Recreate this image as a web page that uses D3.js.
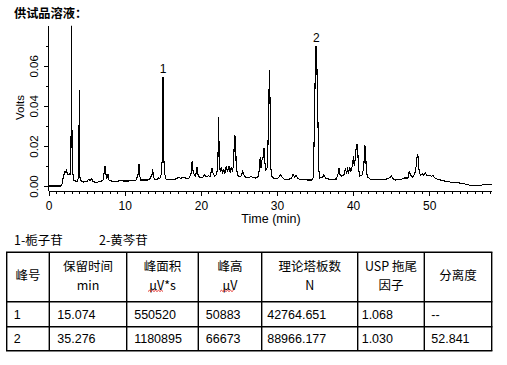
<!DOCTYPE html>
<html><head><meta charset="utf-8">
<script src="https://cdn.jsdelivr.net/npm/d3@7"></script>
<style>
html,body{margin:0;padding:0;background:#fff;}
svg{display:block;}
text{font-family:"Liberation Sans",Arial,sans-serif;fill:#000;}
.cjk{font-family:"Noto Sans CJK SC","Liberation Sans",sans-serif;}
</style></head>
<body>
<script>
// ---------- data ----------
const times = [0,1.6,1.75,1.9,2.05,2.15,2.25,2.35,2.45,2.55,2.7,2.8,2.9,2.95,3.0,3.05,3.1,3.15,3.25,3.5,3.8,3.95,4.02,4.08,4.15,4.3,4.6,5.0,5.3,5.45,5.65,5.8,6.2,6.8,7.15,7.3,7.4,7.5,7.6,7.8,7.9,8.2,9.0,9.5,9.8,10.5,11.0,11.5,11.75,11.87,11.97,12.1,13.0,13.3,13.45,13.55,13.66,13.75,13.9,14.2,14.4,14.6,14.8,14.93,15.0,15.05,15.12,15.25,15.4,16.0,16.5,16.9,17.1,17.3,17.6,18.0,18.4,18.7,18.85,18.95,19.1,19.3,19.5,19.6,19.8,20.2,20.5,20.7,21.0,21.2,21.45,21.6,21.8,22.1,22.25,22.33,22.42,22.55,22.7,22.85,23.0,23.15,23.35,23.5,23.7,23.85,24.0,24.15,24.3,24.42,24.55,24.65,24.85,25.0,25.3,25.5,25.65,25.9,26.3,26.6,26.8,27.2,27.5,27.7,27.8,27.9,28.05,28.2,28.3,28.4,28.55,28.75,28.9,28.97,29.03,29.1,29.18,29.3,29.6,30.0,30.3,30.5,30.7,31.0,31.5,31.9,32.1,32.3,32.5,32.7,33.0,34.0,34.6,34.8,34.95,35.1,35.2,35.35,35.5,35.65,36.0,36.15,36.4,37.0,37.8,38.0,38.15,38.3,38.5,38.8,39.0,39.15,39.3,39.4,39.55,39.7,39.9,40.05,40.15,40.3,40.45,40.6,40.7,40.9,41.2,41.4,41.55,41.65,41.75,41.9,42.3,43.5,44.5,44.9,45.05,45.3,45.6,46.3,46.7,47.2,47.4,47.55,47.8,48.1,48.3,48.45,48.55,48.7,48.9,49.1,49.3,49.5,49.7,50.0,50.3,50.5,50.8,51.0,52.0,53.0,54.0,55.0,55.5,56.8,57.0,58.3];
const volts = [0,0,0.001,0.004,0.0065,0.0075,0.0068,0.0077,0.0062,0.0058,0.006,0.0055,0.0065,0.03,0.085,0.03,0.0155,0.008,0.003,0.0025,0.0022,0.006,0.048,0.006,0.0028,0.0025,0.002,0.0022,0.0035,0.0025,0.0038,0.0022,0.0018,0.0022,0.003,0.007,0.0102,0.007,0.0035,0.0058,0.003,0.0025,0.0022,0.003,0.0025,0.0025,0.0028,0.003,0.006,0.011,0.005,0.003,0.003,0.0035,0.005,0.0048,0.0085,0.005,0.0035,0.0032,0.004,0.0035,0.006,0.014,0.054,0.054,0.0145,0.006,0.0035,0.0032,0.0033,0.0038,0.0045,0.0038,0.0042,0.004,0.0038,0.006,0.0125,0.008,0.006,0.005,0.0095,0.006,0.0045,0.0042,0.0055,0.0045,0.0052,0.0045,0.009,0.0065,0.0048,0.006,0.015,0.0345,0.012,0.007,0.0095,0.006,0.0085,0.006,0.01,0.007,0.0098,0.0065,0.0095,0.007,0.011,0.0255,0.024,0.009,0.0055,0.0048,0.005,0.0075,0.0055,0.0042,0.004,0.005,0.0042,0.004,0.0045,0.0085,0.0145,0.009,0.0135,0.0145,0.0188,0.012,0.008,0.0095,0.035,0.0505,0.058,0.039,0.0097,0.005,0.0038,0.0036,0.0045,0.0058,0.0042,0.0033,0.0033,0.0038,0.0058,0.0045,0.0052,0.004,0.0033,0.003,0.003,0.0045,0.04,0.0695,0.0695,0.04,0.008,0.004,0.0045,0.0055,0.0038,0.0033,0.0035,0.0055,0.0088,0.0055,0.0048,0.0055,0.009,0.006,0.0092,0.006,0.0095,0.007,0.01,0.0147,0.01,0.014,0.0208,0.0208,0.009,0.005,0.0055,0.009,0.0205,0.0175,0.007,0.0045,0.0033,0.0033,0.0035,0.0045,0.005,0.0035,0.003,0.0032,0.004,0.004,0.0075,0.0055,0.0045,0.0058,0.01,0.0158,0.0145,0.0065,0.0055,0.006,0.0052,0.0065,0.0052,0.0055,0.0048,0.0052,0.0038,0.0035,0.0025,0.0018,0.0015,0.0008,0.0002,0.0002,0.0006,0.0006];

const yTickValues = [0, 0.02, 0.04, 0.06];
const yMinorValues = [0.01, 0.03, 0.05, 0.07];
const xTickValues = [0, 10, 20, 30, 40, 50];
const xMinorValues = d3.range(1, 59).filter(d => d % 10 !== 0);

const peakNames = ["1", "2"];
const peakTimes = [15.03, 35.18];
const peakHeights = [0.054, 0.0695];

const titleText = "供试品溶液：";
const legendItems = ["1-栀子苷", "2-黄芩苷"];
const headerRows = [["峰号"], ["保留时间", "min"], ["峰面积", "µV*s"], ["峰高", "µV"], ["理论塔板数", "N"], ["USP 拖尾", "因子"], ["分离度"]];
const rows = [
  ["1", "15.074", "550520", "50883", "42764.651", "1.068", "--"],
  ["2", "35.276", "1180895", "66673", "88966.177", "1.030", "52.841"]
];

// ---------- drawing ----------
const W = 507, H = 365;
const svg = d3.select("body").append("svg").attr("width", W).attr("height", H);

const x = d3.scaleLinear().domain([0, 58.3]).range([48.7, 492.3]);
const y = d3.scaleLinear().domain([-0.0025, 0.08]).range([191, 25.8]);

// title
svg.append("text").attr("class", "cjk").attr("x", 14).attr("y", 17.5)
  .attr("font-size", 12.2).attr("font-weight", "bold").text(titleText);

// clip
svg.append("clipPath").attr("id", "plotclip").append("rect")
  .attr("x", 48).attr("y", 25.8).attr("width", 450).attr("height", 166);

// y axis
const yAxis = d3.axisLeft(y).tickValues(yTickValues).tickFormat(d3.format(".2f")).tickSize(5).tickSizeOuter(0);
const gy = svg.append("g").attr("transform", `translate(${x(0)},0)`).call(yAxis);
gy.select(".domain").remove();
gy.selectAll("line").attr("stroke", "#000").attr("shape-rendering", "crispEdges");
gy.selectAll("text").attr("transform", "rotate(-90)").attr("x", 0).attr("y", -10.5).attr("dy", 0)
  .attr("text-anchor", "middle").attr("font-size", 11.5).attr("font-family", "Liberation Sans, Arial, sans-serif");
const gym = svg.append("g").attr("transform", `translate(${x(0)},0)`)
  .call(d3.axisLeft(y).tickValues(yMinorValues).tickSize(3).tickFormat(""));
gym.select(".domain").remove();
gym.selectAll("line").attr("stroke", "#000").attr("shape-rendering", "crispEdges");

// x axis
const gx = svg.append("g").attr("transform", `translate(0,${y.range()[0]})`)
  .call(d3.axisBottom(x).tickValues(xTickValues).tickSize(5).tickSizeOuter(0).tickFormat(d3.format("d")));
gx.select(".domain").remove();
gx.selectAll("line").attr("stroke", "#000").attr("shape-rendering", "crispEdges");
gx.selectAll("text").attr("y", 0).attr("dy", 0).attr("transform", "translate(0,19.3)").attr("font-size", 12)
  .attr("font-family", "Liberation Sans, Arial, sans-serif");
const gxm = svg.append("g").attr("transform", `translate(0,${y.range()[0]})`)
  .call(d3.axisBottom(x).tickValues(xMinorValues).tickSize(3).tickFormat(""));
gxm.select(".domain").remove();
gxm.selectAll("line").attr("stroke", "#000").attr("shape-rendering", "crispEdges");

// axis lines
svg.append("line").attr("x1", x(0)).attr("x2", x(0)).attr("y1", y.range()[1]).attr("y2", y.range()[0])
  .attr("stroke", "#000").attr("shape-rendering", "crispEdges");
svg.append("line").attr("x1", x(0)).attr("x2", x(58.3)).attr("y1", y.range()[0]).attr("y2", y.range()[0])
  .attr("stroke", "#000").attr("shape-rendering", "crispEdges");

// axis titles
svg.append("text").attr("transform", `translate(24,107.5) rotate(-90)`).attr("text-anchor", "middle")
  .attr("font-size", 11.5).text("Volts");
svg.append("text").attr("x", 271).attr("y", 223).attr("text-anchor", "middle")
  .attr("font-size", 12.5).text("Time (min)");

// trace
const pts = times.map((t, i) => [t, volts[i]]);
svg.append("path").attr("clip-path", "url(#plotclip)").datum(pts)
  .attr("d", d3.line().x(d => x(d[0])).y(d => y(d[1])))
  .attr("fill", "none").attr("stroke", "#000").attr("stroke-width", 1.1)
  .attr("shape-rendering", "crispEdges");

// peak labels
svg.selectAll(".plab").data(peakNames).enter().append("text")
  .attr("x", (d, i) => x(peakTimes[i])).attr("y", (d, i) => y(peakHeights[i]) - 4.5)
  .attr("text-anchor", "middle").attr("font-size", 12).text(d => d);

// legend
svg.append("text").attr("class", "cjk").attr("x", 14).attr("y", 244.5).attr("font-size", 12.5).text(legendItems[0]);
svg.append("text").attr("class", "cjk").attr("x", 99).attr("y", 244.5).attr("font-size", 12.5).text(legendItems[1]);

// table
const colX = [6.7, 49.3, 126.7, 198.3, 261.7, 357.7, 424.3, 491.7];
const rowY = [252.3, 301.7, 326.7, 350.7];
const tg = svg.append("g");
colX.forEach(cx => tg.append("line").attr("x1", cx).attr("x2", cx).attr("y1", rowY[0]).attr("y2", rowY[3])
  .attr("stroke", "#000").attr("stroke-width", 1.4));
rowY.forEach(ry => tg.append("line").attr("x1", colX[0] - 0.7).attr("x2", colX[7] + 0.7).attr("y1", ry).attr("y2", ry)
  .attr("stroke", "#000").attr("stroke-width", 1.4));

headerRows.forEach((lines, c) => {
  const cx = (colX[c] + colX[c + 1]) / 2;
  const centers = lines.length === 1 ? [275] : [266.8, 285];
  lines.forEach((s, k) => {
    tg.append("text").attr("class", "cjk").attr("x", cx).attr("y", centers[k] + 4.5)
      .attr("text-anchor", "middle").attr("font-size", 12.5).text(s);
  });
});
// spell-check wavy underline under µV
function wavy(x0, x1, yy) {
  let d = `M${x0},${yy}`;
  let up = true;
  for (let xx = x0 + 1.5; xx <= x1; xx += 1.5) { d += `L${xx},${yy + (up ? -1.2 : 0)}`; up = !up; }
  tg.append("path").attr("d", d).attr("fill", "none").attr("stroke", "#e0201c").attr("stroke-width", 0.9);
}
wavy(148, 163, 291.5);
wavy(220, 233.5, 291.5);

const pads = [7, 8, 7.5, 7.5, 5.5, 4, 7];
rows.forEach((r, ri) => {
  const cy = (rowY[ri + 1] + rowY[ri + 2]) / 2 + 4.5;
  r.forEach((s, c) => {
    tg.append("text").attr("x", colX[c] + pads[c]).attr("y", cy).attr("font-size", 12.5).text(s);
  });
});
</script>
</body></html>
